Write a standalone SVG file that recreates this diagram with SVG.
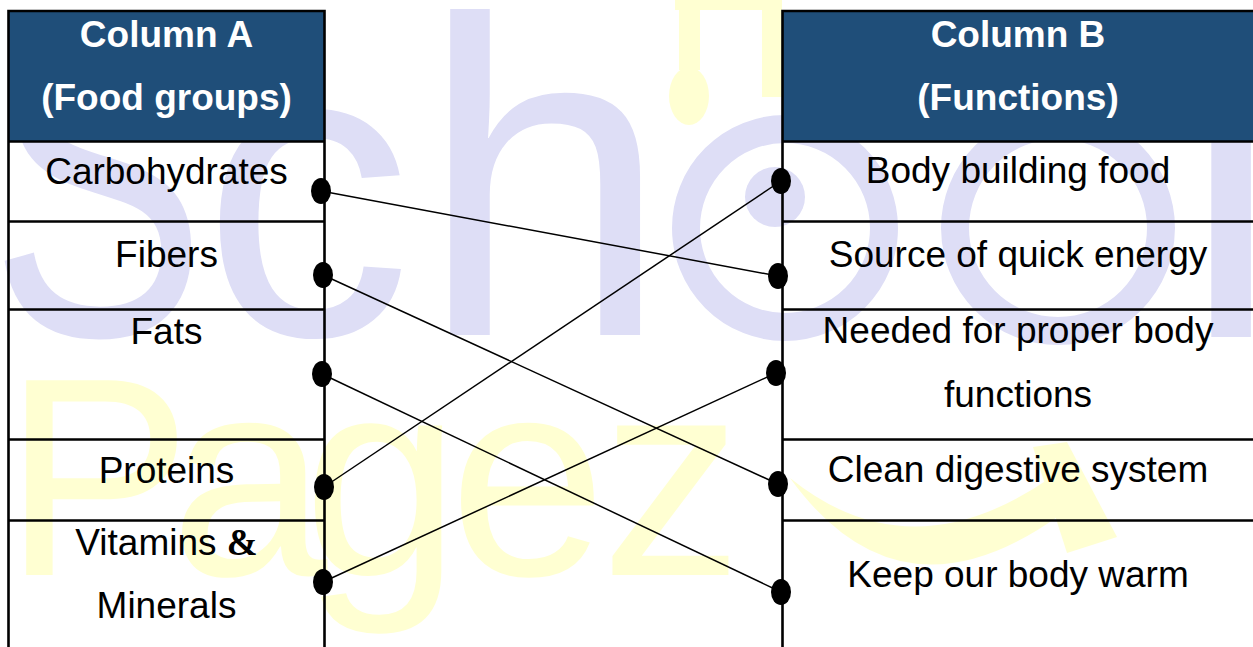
<svg xmlns="http://www.w3.org/2000/svg" width="1253" height="647" viewBox="0 0 1253 647">
  <defs>
    <style>
      .wm-blue { fill: #DEDEF6; font-family: "Liberation Sans", Arial, sans-serif; }
      .wm-yellow { fill: #FFFFD2; font-family: "Liberation Sans", Arial, sans-serif; }
      .wm-y-shape { fill: #FFFFD2; }
      .hdr { fill: #1F4E79; }
      .hdr-text { fill: #FFFFFF; font-family: "Liberation Sans", Arial, sans-serif; font-weight: bold; font-size: 37px; text-anchor: middle; }
      .cell-text { fill: #000000; font-family: "Liberation Sans", Arial, sans-serif; font-size: 37px; text-anchor: middle; }
      .amp { font-family: "Liberation Serif", "Times New Roman", serif; font-weight: bold; }
      .grid { stroke: #000000; stroke-width: 2.6; fill: none; }
      .conn { stroke: #000000; stroke-width: 1.5; fill: none; }
    </style>
    <marker id="dot" markerWidth="24" markerHeight="30" refX="12" refY="15" orient="0" markerUnits="userSpaceOnUse">
      <ellipse cx="12" cy="15" rx="10" ry="13" fill="#000000"/>
    </marker>
  </defs>

  <rect x="0" y="0" width="1253" height="647" fill="#FFFFFF"/>

  <!-- faint watermark -->
  <g id="watermark">
    <text class="wm-blue" x="-14" y="335" font-size="450" transform="scale(0.72,1)">S</text>
    <text class="wm-blue" x="202" y="335" font-size="420">c</text>
    <text class="wm-blue" x="419" y="335" font-size="450">h</text>
    <circle cx="785" cy="228" r="99" fill="none" stroke="#DEDEF6" stroke-width="28"/>
    <circle cx="775" cy="197" r="30" fill="#DEDEF6"/>
    <circle cx="1058" cy="228" r="103" fill="none" stroke="#DEDEF6" stroke-width="28"/>
    <text class="wm-blue" x="1181" y="337" font-size="450">l</text>
    <text class="wm-yellow" x="3 170 303 449 601" y="575" font-size="283">Pagez</text>
    <path class="wm-y-shape" d="M 790 478 Q 900 630 1060 515 L 1050 478 Q 910 575 790 478 Z"/>
    <path class="wm-y-shape" d="M 1033 447 L 1067 442 L 1117 537 L 1067 553 Z"/>
    <rect class="wm-y-shape" x="675" y="0" width="107" height="10"/>
    <rect class="wm-y-shape" x="679" y="0" width="21" height="70"/>
    <ellipse class="wm-y-shape" cx="689" cy="96" rx="20" ry="29"/>
    <rect class="wm-y-shape" x="762" y="0" width="20" height="97"/>
  </g>

  <!-- Column A -->
  <g id="col-a-header">
    <rect class="hdr" x="8.5" y="11" width="316" height="130.5"/>
    <text class="hdr-text" x="166.5" y="47">Column A</text>
    <text class="hdr-text" x="166.5" y="110">(Food groups)</text>
  </g>
  <g id="col-a-frame">
    <path class="grid" d="M 8.5 647 V 11 H 324.5 V 647 M 8.5 141.5 H 324.5 M 8.5 221.5 H 324.5 M 8.5 309.5 H 324.5 M 8.5 439.5 H 324.5 M 8.5 520.5 H 324.5"/>
  </g>
  <g id="a-carbohydrates"><text class="cell-text" x="166.5" y="184">Carbohydrates</text></g>
  <g id="a-fibers"><text class="cell-text" x="166.5" y="267">Fibers</text></g>
  <g id="a-fats"><text class="cell-text" x="166.5" y="344">Fats</text></g>
  <g id="a-proteins"><text class="cell-text" x="166.5" y="483">Proteins</text></g>
  <g id="a-vitamins">
    <text class="cell-text" x="166.5" y="555">Vitamins <tspan class="amp">&amp;</tspan></text>
    <text class="cell-text" x="166.5" y="618">Minerals</text>
  </g>

  <!-- Column B -->
  <g id="col-b-header">
    <rect class="hdr" x="782.5" y="11" width="472" height="130.5"/>
    <text class="hdr-text" x="1018" y="47">Column B</text>
    <text class="hdr-text" x="1018" y="110">(Functions)</text>
  </g>
  <g id="col-b-frame">
    <path class="grid" d="M 782.5 647 V 11 H 1255 M 782.5 141.5 H 1255 M 782.5 221.5 H 1255 M 782.5 309.5 H 1255 M 782.5 439.5 H 1255 M 782.5 520.5 H 1255"/>
  </g>
  <g id="b-body-building"><text class="cell-text" x="1018" y="183">Body building food</text></g>
  <g id="b-quick-energy"><text class="cell-text" x="1018" y="267">Source of quick energy</text></g>
  <g id="b-body-functions">
    <text class="cell-text" x="1018" y="343">Needed for proper body</text>
    <text class="cell-text" x="1018" y="407">functions</text>
  </g>
  <g id="b-digestive"><text class="cell-text" x="1018" y="482">Clean digestive system</text></g>
  <g id="b-warm"><text class="cell-text" x="1018" y="587">Keep our body warm</text></g>

  <!-- connectors -->
  <g id="connectors">
    <line class="conn" x1="321" y1="191" x2="778" y2="276" marker-start="url(#dot)" marker-end="url(#dot)"/>
    <line class="conn" x1="323" y1="275" x2="778" y2="484" marker-start="url(#dot)" marker-end="url(#dot)"/>
    <line class="conn" x1="322" y1="374" x2="781" y2="592" marker-start="url(#dot)" marker-end="url(#dot)"/>
    <line class="conn" x1="324" y1="487" x2="781" y2="181" marker-start="url(#dot)" marker-end="url(#dot)"/>
    <line class="conn" x1="323" y1="582" x2="776" y2="373" marker-start="url(#dot)" marker-end="url(#dot)"/>
  </g>
</svg>
